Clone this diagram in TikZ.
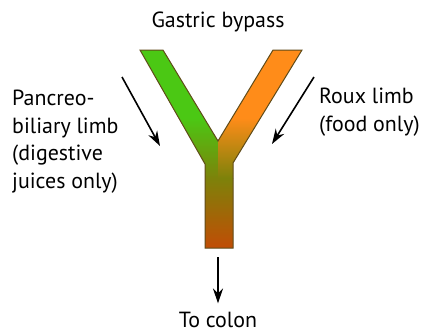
\documentclass[tikz,border=0pt]{standalone}
\usepackage{fontspec}
\setmainfont{PT Sans}
\usetikzlibrary{arrows.meta}
\definecolor{limbgreen}{RGB}{75,200,20}
\definecolor{limborange}{RGB}{255,140,25}
\definecolor{limbolive}{RGB}{125,130,10}
\definecolor{limbrust}{RGB}{195,75,5}
\definecolor{limbedge}{RGB}{95,75,25}
\begin{document}
\begin{tikzpicture}[x=1bp,y=-1bp,
    limbarrow/.style={line width=1.6bp,-{Stealth[length=15bp,width=10bp]}},
    lbl/.style={inner sep=0pt,font=\fontsize{22}{27.5}\selectfont}]
  \useasboundingbox (0,0) rectangle (427,332);
  \coordinate (lo) at (140,50); \coordinate (li) at (163,50);
  \coordinate (j) at (218,141); \coordinate (ri) at (273,50);
  \coordinate (ro) at (302,50); \coordinate (sr) at (233,163);
  \coordinate (br) at (233,248); \coordinate (bl) at (205,248);
  \coordinate (sl) at (205,164);
  \begin{scope}
    \clip (lo) -- (li) -- (j) -- (ri) -- (ro) -- (sr) -- (br) -- (bl)
    -- (sl) -- cycle;
    \fill[limbgreen] (130,45) rectangle (218,118);
    \shade[top color=limbgreen,bottom color=limbolive] (130,118)
    rectangle (218,178);
    \fill[limborange] (218,45) rectangle (310,118);
    \shade[top color=limborange,bottom color=limbolive] (218,118)
    rectangle (310,178);
    \shade[top color=limbolive,bottom color=limbrust] (200,178)
    rectangle (240,250);
  \end{scope}
  \draw[limbedge,line width=1bp] (lo) -- (li) -- (j) -- (ri) -- (ro)
  -- (sr) -- (br) -- (bl) -- (sl) -- cycle;
  \node[lbl,anchor=base] (title) at (218,27) {Gastric bypass};
  \node[lbl,anchor=base west,align=left] (pblabel) at (12,188)
  {Pancreo-\\biliary limb\\(digestive\\juices only)};
  \node[lbl,anchor=base west,align=left] (rxlabel) at (319,131)
  {Roux limb\\(food only)};
  \node[lbl,anchor=base] (colon) at (218,327) {To colon};
  \coordinate (pbtail) at (122,77); \coordinate (pbtip) at (160,146);
  \coordinate (rxtail) at (314,77); \coordinate (rxtip) at (272,144);
  \coordinate (coltail) at (218,257);
  \draw[limbarrow] (pbtail) -- (pbtip);
  \draw[limbarrow] (rxtail) -- (rxtip);
  \draw[limbarrow,shorten >=8bp] (coltail) -- (colon.north);
\end{tikzpicture}
\end{document}
